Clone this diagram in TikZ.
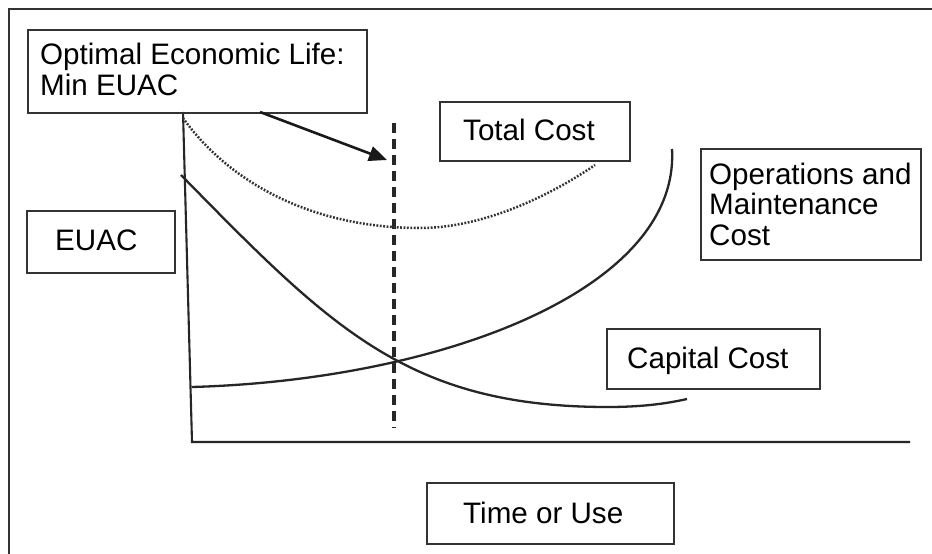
\documentclass[tikz,border=0pt]{standalone}
\usepackage{fontspec}
\setmainfont{Liberation Sans}
\usetikzlibrary{arrows.meta}
\begin{document}
\begin{tikzpicture}[x=1pt,y=-1pt,
  box/.style={draw=black!80,line width=1.9pt,anchor=north west,inner sep=0pt},
  lbl/.style={inner sep=0pt,anchor=base west,align=left,font=\fontsize{29.6}{30.5}\selectfont},
  curve/.style={line width=2.3pt,black!85},
  axis/.style={line width=2.1pt,black!85},
  dotline/.style={line width=2.5pt,black!80,dash pattern=on 1.8pt off 1.6pt},
  dashline/.style={line width=3.2pt,black!85,dash pattern=on 10pt off 6pt},
  arr/.style={line width=2.6pt,black!90,-{Triangle[length=18pt,width=15pt]}}]
\useasboundingbox (0,0) rectangle (932,554);
\fill[white] (0,0) rectangle (932,554);
% frame
\coordinate (fbl) at (9,554);
\coordinate (ftl) at (9,9);
\coordinate (ftr) at (932,9);
\draw[line width=2.4pt,black!80] (fbl) -- (ftl) -- (ftr);
% axes
\coordinate (ytop) at (183,112);
\coordinate (orig) at (192,442);
\coordinate (xend) at (910,442);
\draw[axis] (ytop) -- (orig) -- (xend);
% boxes
\node[box,minimum width=339pt,minimum height=83pt] (opt) at (27,29) {};
\node[lbl] (optT) at (40,95) {Optimal Economic Life:\\Min EUAC};
\node[box,minimum width=190pt,minimum height=59pt] (tot) at (439,101) {};
\node[lbl] (totT) at (463,140) {Total Cost};
\node[box,minimum width=220pt,minimum height=111pt] (om) at (700,148) {};
\node[lbl] (omT) at (709,245) {Operations and\\Maintenance\\Cost};
\node[box,minimum width=148pt,minimum height=62pt] (euac) at (26,210) {};
\node[lbl] (euacT) at (55,250) {EUAC};
\node[box,minimum width=213pt,minimum height=60pt] (cap) at (606,328) {};
\node[lbl] (capT) at (627,368) {Capital Cost};
\node[box,minimum width=247pt,minimum height=61pt] (time) at (426,482) {};
\node[lbl] (timeT) at (463,523) {Time or Use};
% optimum line
\coordinate (dtop) at (394,123);
\coordinate (dbot) at (394,428);
\draw[dashline] (dtop) -- (dbot);
% arrow
\coordinate (astart) at (260,112);
\coordinate (atip) at (387,160);
\draw[arr] (astart) -- (atip);
% total cost (dotted)
\coordinate (t0) at (183,118);
\coordinate (t1) at (420,228);
\coordinate (t2) at (595,165);
\draw[dotline] (t0) .. controls (228,181) and (310,228) .. (t1)
  .. controls (480,228) and (545,199) .. (t2);
% capital cost
\coordinate (c0) at (181,175);
\coordinate (c1) at (608,407);
\coordinate (c2) at (687,399);
\draw[curve] (c0) .. controls (331,328) and (408,407) .. (c1)
  .. controls (640,407) and (665,404) .. (c2);
% operations and maintenance cost
\coordinate (m0) at (192,387);
\coordinate (m1) at (672,149);
\draw[curve] (m0) .. controls (440,380) and (680,290) .. (m1);
\end{tikzpicture}
\end{document}
